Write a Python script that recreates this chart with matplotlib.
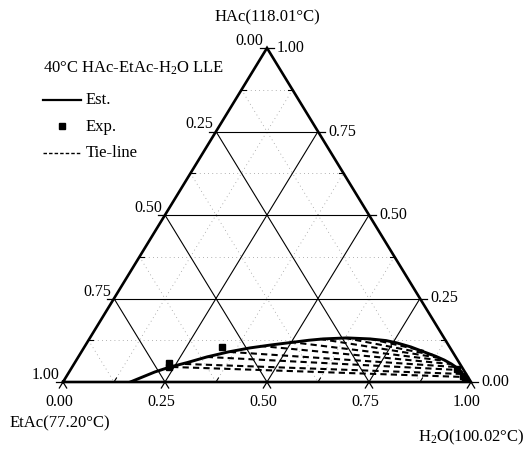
import numpy as np
import matplotlib
matplotlib.use("Agg")
import matplotlib.pyplot as plt

plt.rcParams['font.family'] = ['Liberation Serif', 'DejaVu Serif']
plt.rcParams['mathtext.fontset'] = 'custom'
plt.rcParams['mathtext.rm'] = 'Liberation Serif'
plt.rcParams['mathtext.it'] = 'Liberation Serif:italic'

# binodal curve (estimated), mole fractions of H2O and HAc
est_h2o = [0.165, 0.183, 0.210, 0.240, 0.275, 0.315, 0.360, 0.407, 0.455, 0.498,
           0.540, 0.573, 0.630, 0.688, 0.730, 0.760, 0.800, 0.840, 0.875, 0.901,
           0.925, 0.945, 0.962, 0.975, 0.985]
est_hac = [0.000, 0.012, 0.030, 0.045, 0.058, 0.075, 0.090, 0.102, 0.111, 0.118,
           0.125, 0.129, 0.132, 0.129, 0.124, 0.117, 0.105, 0.090, 0.077, 0.066,
           0.054, 0.042, 0.030, 0.015, 0.000]

# experimental points
exp_h2o = [0.232, 0.238, 0.337, 0.946, 0.972, 0.980]
exp_hac = [0.057, 0.045, 0.105, 0.039, 0.018, 0.009]

# tie-lines: organic phase end -> aqueous phase end
tie_org_h2o = [0.245, 0.272, 0.315, 0.364, 0.429, 0.496, 0.565, 0.625, 0.688]
tie_org_hac = [0.045, 0.054, 0.075, 0.090, 0.108, 0.120, 0.129, 0.132, 0.129]
tie_aq_h2o = [0.975, 0.966, 0.950, 0.938, 0.922, 0.907, 0.888, 0.866, 0.838]
tie_aq_hac = [0.015, 0.024, 0.036, 0.045, 0.054, 0.063, 0.072, 0.081, 0.093]

tick_vals = [0.0, 0.25, 0.5, 0.75, 1.0]
tick_text = ['0.00', '0.25', '0.50', '0.75', '1.00']


def tern(h2o, hac):
    h2o = np.asarray(h2o, dtype=float)
    hac = np.asarray(hac, dtype=float)
    return h2o + hac / 2.0, hac


fig = plt.figure(figsize=(5.28, 4.49), dpi=100)
ax = fig.add_axes([63 / 528, (449 - 382) / 449, 408 / 528, 334 / 449])
ax.set_xlim(0, 1)
ax.set_ylim(0, 1)
ax.axis('off')

# light dotted grid every 0.125
for v in [0.125, 0.375, 0.625, 0.875]:
    kw = dict(color='0.6', lw=0.6, ls=(0, (1, 4)), zorder=1)
    ax.plot(*tern([0, 1 - v], [v, v]), **kw)          # const HAc
    ax.plot(*tern([v, v], [0, 1 - v]), **kw)          # const H2O
    ax.plot(*tern([0, 1 - v], [1 - v, 0]), **kw)      # const EtAc

# solid grid at 0.25 steps
for v in [0.25, 0.5, 0.75]:
    kw = dict(color='k', lw=0.8, zorder=2)
    ax.plot(*tern([0, 1 - v], [v, v]), **kw)
    ax.plot(*tern([v, v], [0, 1 - v]), **kw)
    ax.plot(*tern([0, 1 - v], [1 - v, 0]), **kw)

# triangle frame
ax.plot(*tern([0, 1, 0, 0], [0, 0, 1, 0]), color='k', lw=1.9, zorder=3,
        clip_on=False, solid_joinstyle='miter')

# outward tick stubs at the labelled values
d = 0.018
for v in tick_vals:
    # bottom edge
    ax.plot(*tern([v, v + d], [0, -d]), color='k', lw=0.9, clip_on=False)
    ax.plot(*tern([v, v], [0, -d]), color='k', lw=0.9, clip_on=False)
    # left edge
    ax.plot(*tern([0, -d], [1 - v, 1 - v]), color='k', lw=0.9, clip_on=False)
    # right edge
    ax.plot(*tern([1 - v, 1 - v + d], [v, v]), color='k', lw=0.9, clip_on=False)

# minor ticks at 0.125 steps
m = 0.012
for v in [0.125, 0.375, 0.625, 0.875]:
    ax.plot(*tern([v, v], [0, m]), color='k', lw=0.8)
    ax.plot(*tern([0, m], [1 - v, 1 - v]), color='k', lw=0.8)
    ax.plot(*tern([1 - v, 1 - v - m], [v, v]), color='k', lw=0.8)

# tie-lines
for a, b, c, e in zip(tie_org_h2o, tie_org_hac, tie_aq_h2o, tie_aq_hac):
    ax.plot(*tern([a, c], [b, e]), color='k', lw=1.5, ls=(0, (3, 2)), zorder=4)

# binodal curve and experimental data
ax.plot(*tern(est_h2o, est_hac), color='k', lw=2.1, zorder=5)
ax.plot(*tern(exp_h2o, exp_hac), ls='none', marker='s', ms=5, color='k', zorder=6)

fs = 11.5
# bottom axis (H2O)
for v, t in zip(tick_vals, tick_text):
    ax.annotate(t, xy=tern(v, 0), xytext=(-4, -20), textcoords='offset pixels',
                ha='center', va='center', fontsize=fs, annotation_clip=False)
# left axis (EtAc)
for v, t in zip(tick_vals, tick_text):
    if v == 0.0:
        ax.annotate(t, xy=tern(0, 1), xytext=(-4, 7), textcoords='offset pixels',
                    ha='right', va='center', fontsize=fs, annotation_clip=False)
    else:
        ax.annotate(t, xy=tern(0, 1 - v), xytext=(-3, 7), textcoords='offset pixels',
                    ha='right', va='center', fontsize=fs, annotation_clip=False)
# right axis (HAc)
for v, t in zip(tick_vals, tick_text):
    ax.annotate(t, xy=tern(1 - v, v), xytext=(10, 0), textcoords='offset pixels',
                ha='left', va='center', fontsize=fs, annotation_clip=False)

fig.text(267 / 528, 1 - 17 / 449, 'HAc(118.01°C)', ha='center', va='center', fontsize=12)
fig.text(10 / 528, 1 - 423 / 449, 'EtAc(77.20°C)', ha='left', va='center', fontsize=12)
fig.text(524 / 528, 1 - 437 / 449, r'H$_2$O(100.02°C)', ha='right', va='center', fontsize=12)

fig.text(43 / 528, 1 - 68 / 449, r'40°C HAc-EtAc-H$_2$O LLE', ha='left', va='center', fontsize=12)

# legend drawn by hand
fig.lines.append(plt.Line2D([43 / 528, 81 / 528], [1 - 100 / 449] * 2, color='k', lw=1.6,
                            transform=fig.transFigure))
fig.lines.append(plt.Line2D([62 / 528], [1 - 126 / 449], color='k', marker='s', ms=4,
                            ls='none', transform=fig.transFigure))
fig.lines.append(plt.Line2D([43 / 528, 81 / 528], [1 - 153 / 449] * 2, color='k', lw=1.0,
                            ls=(0, (2.5, 1.5)), transform=fig.transFigure))
fig.text(86 / 528, 1 - 100 / 449, 'Est.', ha='left', va='center', fontsize=12)
fig.text(86 / 528, 1 - 127 / 449, 'Exp.', ha='left', va='center', fontsize=12)
fig.text(86 / 528, 1 - 153 / 449, 'Tie-line', ha='left', va='center', fontsize=12)

fig.savefig('out.png', dpi=100)
